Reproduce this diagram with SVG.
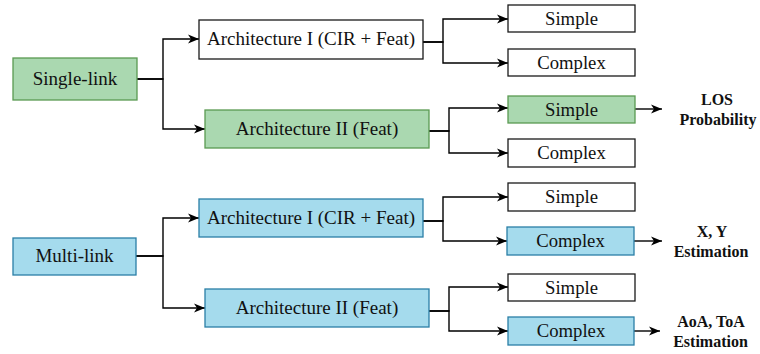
<svg xmlns="http://www.w3.org/2000/svg" width="760" height="354" viewBox="0 0 760 354">
<defs>
<marker id="arr" markerWidth="12" markerHeight="10" refX="11" refY="5" orient="auto" markerUnits="userSpaceOnUse">
<path d="M0,0.5 L11,5 L0,9.5 L3,5 z" fill="#000"/>
</marker>
<style>
.w{fill:#fff;stroke:#1a1a1a;stroke-width:1.3}
.g{fill:#aad8b0;stroke:#5a9a52;stroke-width:1.3}
.b{fill:#a5dbed;stroke:#2a7fa6;stroke-width:1.3}
.t{font-family:"Liberation Serif","Times New Roman",serif;font-size:19px;fill:#111;text-anchor:middle}
.s{font-family:"Liberation Serif","Times New Roman",serif;font-size:18.7px;fill:#111;text-anchor:middle}
.o{font-family:"Liberation Serif","Times New Roman",serif;font-size:16px;font-weight:bold;fill:#111;text-anchor:middle}
.c{fill:none;stroke:#000;stroke-width:1.4;marker-end:url(#arr)}
</style>
</defs>
<g id="connectors">
<path class="c" d="M137,79 H163 V39 H199"/>
<path class="c" d="M137,79 H163 V129 H205"/>
<path class="c" d="M423,42 H443 V19 H508"/>
<path class="c" d="M423,42 H443 V63 H508"/>
<path class="c" d="M429,131 H449 V108 H508"/>
<path class="c" d="M429,131 H449 V153 H508"/>
<path class="c" d="M635,109 H662"/>
<path class="c" d="M136,256 H163 V218 H199"/>
<path class="c" d="M136,256 H163 V308 H205"/>
<path class="c" d="M423,221 H443 V197 H508"/>
<path class="c" d="M423,221 H443 V241 H507"/>
<path class="c" d="M429,311 H449 V287 H508"/>
<path class="c" d="M429,311 H449 V331 H508"/>
<path class="c" d="M634,241 H662"/>
<path class="c" d="M634,331 H660"/>
</g>
<g id="single-link"><rect class="g" x="13" y="58" width="124" height="42"/><text class="t" x="75" y="85">Single-link</text></g>
<g id="arch1-top"><rect class="w" x="199" y="20" width="224" height="39"/><text class="t" x="311" y="45">Architecture I (CIR + Feat)</text></g>
<g id="arch2-top"><rect class="g" x="205" y="110" width="224" height="38"/><text class="t" x="317" y="135">Architecture II (Feat)</text></g>
<g id="simple1"><rect class="w" x="508" y="5" width="127" height="27"/><text class="s" x="571.5" y="24.5">Simple</text></g>
<g id="complex1"><rect class="w" x="508" y="49" width="127" height="27"/><text class="s" x="571.5" y="68.5">Complex</text></g>
<g id="simple2"><rect class="g" x="508" y="96" width="127" height="27"/><text class="s" x="571.5" y="115.5">Simple</text></g>
<g id="complex2"><rect class="w" x="508" y="139" width="127" height="28"/><text class="s" x="571.5" y="159">Complex</text></g>
<g id="los"><text class="o" x="717" y="105">LOS</text><text class="o" x="718" y="125">Probability</text></g>
<g id="multi-link"><rect class="b" x="13" y="238" width="123" height="37"/><text class="t" x="74.5" y="262">Multi-link</text></g>
<g id="arch1-bot"><rect class="b" x="199" y="199" width="224" height="38"/><text class="t" x="311" y="224">Architecture I (CIR + Feat)</text></g>
<g id="arch2-bot"><rect class="b" x="205" y="289" width="224" height="38"/><text class="t" x="317" y="314">Architecture II (Feat)</text></g>
<g id="simple3"><rect class="w" x="508" y="183" width="127" height="28"/><text class="s" x="571.5" y="203">Simple</text></g>
<g id="complex3"><rect class="b" x="507" y="227" width="127" height="28"/><text class="s" x="570.5" y="247">Complex</text></g>
<g id="simple4"><rect class="w" x="508" y="274" width="127" height="27"/><text class="s" x="571.5" y="293.5">Simple</text></g>
<g id="complex4"><rect class="b" x="508" y="317" width="126" height="28"/><text class="s" x="571" y="337">Complex</text></g>
<g id="xy"><text class="o" x="712" y="237">X, Y</text><text class="o" x="711" y="257">Estimation</text></g>
<g id="aoa"><text class="o" x="711" y="327">AoA, ToA</text><text class="o" x="710.5" y="347">Estimation</text></g>
</svg>
